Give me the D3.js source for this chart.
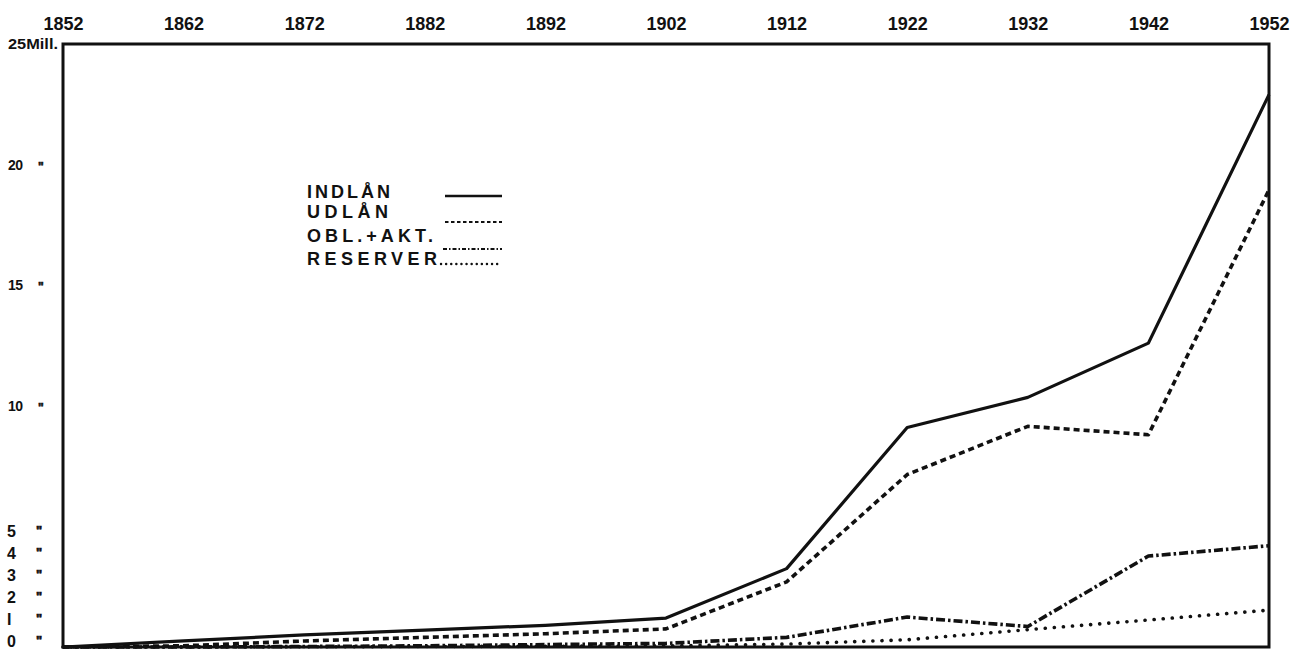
<!DOCTYPE html>
<html>
<head>
<meta charset="utf-8">
<script src="https://cdn.jsdelivr.net/npm/d3@7"></script>
<style>
  html, body { margin: 0; padding: 0; background: #fff; }
  svg { display: block; }
  text { font-family: "Liberation Sans", "DejaVu Sans", sans-serif; font-weight: bold; fill: #111; }
</style>
</head>
<body>
<svg id="chart" width="1301" height="650"></svg>
<script>
// ---- data ----
const years = [1852, 1862, 1872, 1882, 1892, 1902, 1912, 1922, 1932, 1942, 1952];
const indlaan  = [0, 0.25, 0.5, 0.7, 0.9, 1.2, 3.25, 9.1, 10.35, 12.6, 22.9];
const udlaan   = [0, 0.05, 0.25, 0.4, 0.55, 0.75, 2.7, 7.15, 9.15, 8.8, 18.95];
const oblAkt   = [0, 0, 0.02, 0.05, 0.1, 0.15, 0.4, 1.24, 0.85, 3.77, 4.2];
const reserver = [0, 0, 0.01, 0.02, 0.03, 0.05, 0.12, 0.3, 0.72, 1.12, 1.53];
const yTicksSmall = [0, 1, 2, 3, 4, 5];
const yTicksLarge = [10, 15, 20];
const yTopLabel = "25Mill.";
const seriesNames = ["INDLÅN", "UDLÅN", "OBL.+AKT.", "RESERVER"];

// ---- layout ----
const svg = d3.select("#chart");
const mLeft = 63, mRight = 1269, mTop = 44, mBottom = 647;
const x = d3.scaleLinear().domain([1852, 1952]).range([mLeft, mRight]);
const y = d3.scaleLinear().domain([0, 25]).range([mBottom, mTop]);

const styles = [
  { w: 3.2, dash: null, cap: "butt" },
  { w: 3.6, dash: "6 4", cap: "butt" },
  { w: 3.6, dash: "9 3 2.5 3", cap: "butt" },
  { w: 3.6, dash: "0.1 9", cap: "round" }
];
const legendStyles = [
  { w: 2.5, dash: null, cap: "butt" },
  { w: 2.2, dash: "3.5 2.5", cap: "butt" },
  { w: 2.2, dash: "4 2 1.5 2", cap: "butt" },
  { w: 2.4, dash: "0.1 5", cap: "round" }
];
const series = [indlaan, udlaan, oblAkt, reserver];

// top year axis
const xAxis = d3.axisTop(x).tickValues(years).tickSize(0).tickPadding(0).tickFormat(d3.format("d"));
const gx = svg.append("g").attr("transform", "translate(0,30)").call(xAxis);
gx.select(".domain").remove();
gx.selectAll("text")
  .attr("font-size", 18)
  .attr("font-family", "Liberation Sans, sans-serif")
  .attr("font-weight", "bold")
  .attr("fill", "#111");

// frame
svg.append("rect")
  .attr("x", mLeft).attr("y", mTop)
  .attr("width", mRight - mLeft).attr("height", mBottom - mTop)
  .attr("fill", "none").attr("stroke", "#111").attr("stroke-width", 3);

// y labels (hand-lettered labels 0-5 sit slightly compressed upward)
const yl = svg.append("g");
yTicksSmall.forEach(v => {
  const by = y(v) + 0.3 + 2.1 * v;
  yl.append("text").attr("x", 7).attr("y", by).attr("font-size", 16).text(v === 1 ? "I" : v);
  yl.append("text").attr("x", 36).attr("y", by - 2).attr("font-size", 13)
    .attr("stroke", "#111").attr("stroke-width", 0.7).text("\"");
});
yTicksLarge.forEach(v => {
  yl.append("text").attr("x", 8).attr("y", y(v) + 5).attr("font-size", 14).attr("letter-spacing", -0.5).text(v);
  yl.append("text").attr("x", 38).attr("y", y(v) + 6).attr("font-size", 12)
    .attr("stroke", "#111").attr("stroke-width", 0.6).text("\"");
});
yl.append("text").attr("x", 8).attr("y", y(25) + 5).attr("font-size", 14)
  .attr("textLength", 50).attr("lengthAdjust", "spacingAndGlyphs").text(yTopLabel);

// lines
const line = d3.line().x(d => x(d[0])).y(d => y(d[1]));
series.forEach((s, i) => {
  const st = styles[i];
  svg.append("path")
    .datum(years.map((yr, j) => [yr, s[j]]))
    .attr("d", line)
    .attr("fill", "none")
    .attr("stroke", "#111")
    .attr("stroke-width", st.w)
    .attr("stroke-linecap", st.cap)
    .attr("stroke-linejoin", "round")
    .attr("stroke-dasharray", st.dash);
});

// legend
const legTextY = [198, 218, 242, 265];
const legTextW = [83, 81, 126, 130];
const legLineY = [196, 222, 249, 264];
const legLineX0 = [445, 445, 443, 441];
const lg = svg.append("g");
seriesNames.forEach((n, i) => {
  lg.append("text").attr("x", 307).attr("y", legTextY[i])
    .attr("font-size", 18).attr("textLength", legTextW[i]).attr("lengthAdjust", "spacing").text(n);
  const st = legendStyles[i];
  lg.append("line")
    .attr("x1", legLineX0[i]).attr("x2", 502)
    .attr("y1", legLineY[i]).attr("y2", legLineY[i])
    .attr("stroke", "#111").attr("stroke-width", st.w)
    .attr("stroke-linecap", st.cap)
    .attr("stroke-dasharray", st.dash);
});
</script>
</body>
</html>
